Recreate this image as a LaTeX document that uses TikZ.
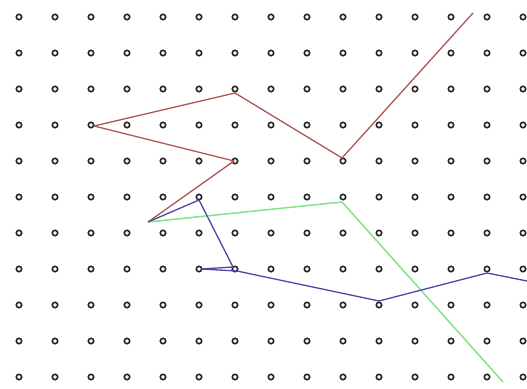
\documentclass[tikz,border=0pt]{standalone}
\begin{document}
\begin{tikzpicture}[x=1pt,y=-1pt,
  dot/.style={draw=black!85,line width=1.6pt,fill=white},
  redline/.style={draw={rgb,255:red,175;green,85;blue,85},line width=1.3pt,line join=round},
  blueline/.style={draw={rgb,255:red,80;green,70;blue,170},line width=1.3pt,line join=round},
  greenline/.style={draw={rgb,255:red,135;green,225;blue,135},line width=1.5pt,line join=round}]
\fill[white] (0,0) rectangle (527,388);
\useasboundingbox (0,0) rectangle (527,388);
\foreach \i in {0,...,14}{
  \foreach \j in {0,...,10}{
    \draw[dot] (19+36*\i,17+36*\j) circle (2.7);
  }
}
% red path
\coordinate (r0) at (473,13);
\coordinate (r1) at (342,158);
\coordinate (r2) at (235,93);
\coordinate (r3) at (94,126);
\coordinate (r4) at (234,161);
\coordinate (s) at (148,222);
\draw[redline] (r0) -- (r1) -- (r2) -- (r3) -- (r4) -- (s);
% green path
\coordinate (g1) at (342,202);
\coordinate (g2) at (503,382);
\draw[greenline] (s) -- (g1) -- (g2);
% blue path
\coordinate (b1) at (199,200);
\coordinate (b2) at (233,267);
\coordinate (b3) at (201,269);
\coordinate (b4) at (237,271);
\coordinate (b5) at (379,301);
\coordinate (b6) at (487,273);
\coordinate (b7) at (527,281);
\draw[blueline] (s) -- (b1) -- (b2) -- (b3) -- (b4) -- (b5) -- (b6) -- (b7);
\end{tikzpicture}
\end{document}
